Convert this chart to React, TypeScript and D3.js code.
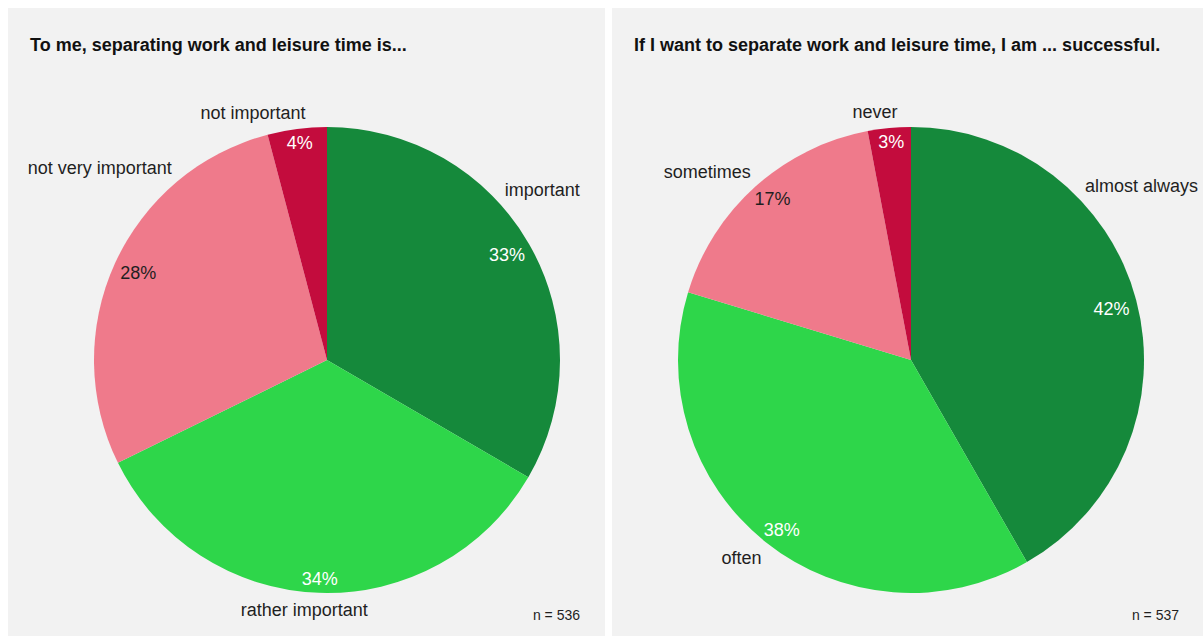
import React from "react";
import * as d3 from "d3";

const leftTitle = "To me, separating work and leisure time is...";
const leftCategories = ["important", "rather important", "not very important", "not important"];
const leftCounts = [179, 184, 151, 22];
const leftN = 536;

const rightTitle = "If I want to separate work and leisure time, I am ... successful.";
const rightCategories = ["almost always", "often", "sometimes", "never"];
const rightCounts = [224, 204, 93, 16];
const rightN = 537;

const sliceColors = ["#15893b", "#2ed64a", "#ef7a8b", "#c30c3d"];
const pctColors = ["#ffffff", "#ffffff", "#1f1f1f", "#ffffff"];

const W = 1203;
const H = 638;
const FONT = "'Liberation Sans', Arial, sans-serif";

let ctx: CanvasRenderingContext2D | null = null;
function measure(text: string, size: number, weight = "normal") {
  if (!ctx) ctx = document.createElement("canvas").getContext("2d");
  ctx!.font = `${weight} ${size}px ${FONT}`;
  return ctx!.measureText(text).width;
}
const clamp = (v: number, a: number, b: number) => Math.max(a, Math.min(b, v));

type PanelCfg = {
  x: number; y: number; w: number; h: number;
  title: string; cats: string[]; counts: number[]; n: number;
  cxOff: number; labelMin: number; labelMax: number; nRight: number;
};

const panels: PanelCfg[] = [
  { x: 8, y: 8, w: 597, h: 628, title: leftTitle, cats: leftCategories, counts: leftCounts, n: leftN, cxOff: 319, labelMin: 19, labelMax: 572, nRight: 572 },
  { x: 612, y: 8, w: 597, h: 628, title: rightTitle, cats: rightCategories, counts: rightCounts, n: rightN, cxOff: 299, labelMin: 19, labelMax: 586, nRight: 567 },
];

const R = 233;
const LABEL_R = 240;
const PCT_R = 225.5;
const FS = 18;

function Panel({ p }: { p: PanelCfg }) {
  const cx = p.x + p.cxOff;
  const cy = p.y + 352;
  const pie = d3.pie<number>().sort(null).value((d) => d)(p.counts);
  const arc = d3.arc<d3.PieArcDatum<number>>().innerRadius(0).outerRadius(R);
  const total = d3.sum(p.counts);
  const minX = p.x + p.labelMin;
  const maxX = p.x + p.labelMax;

  return (
    <g>
      <rect x={p.x} y={p.y} width={p.w} height={p.h} fill="#f2f2f2" />
      <text x={p.x + 22} y={p.y + 43} fontFamily={FONT} fontSize={18} fontWeight="bold" fill="#111">
        {p.title}
      </text>
      <g transform={`translate(${cx},${cy})`}>
        {pie.map((d, i) => (
          <path key={i} d={arc(d) || ""} fill={sliceColors[i]} />
        ))}
      </g>
      {pie.map((d, i) => {
        const mid = (d.startAngle + d.endAngle) / 2;
        const pct = `${Math.round((d.value / total) * 100)}%`;
        const pw = measure(pct, FS);
        const s = Math.sin(mid);
        const c = Math.cos(mid);
        const px = cx + PCT_R * s - (s * pw) / 2;
        const pcy = cy - PCT_R * c + Math.sign(c) * 6.45;
        const lw = measure(p.cats[i], FS);
        let a = mid;
        let left = 0, Py = 0, cc = 0;
        for (let k = 0; k < 400; k++) {
          const ss = Math.sin(a);
          cc = Math.cos(a);
          const Px = cx + LABEL_R * ss;
          Py = cy - LABEL_R * cc;
          const hj = clamp(0.5 - 3.2 * ss, 0, 1);
          left = Px - hj * lw;
          if (left >= minX && left + lw <= maxX) break;
          const toTop = cc >= 0;
          const step = 0.005;
          if (toTop) a += a < Math.PI ? -step : step;
          else a += a < Math.PI ? step : -step;
        }
        const t = clamp(0.5 - 1.5 * cc, 0, 1);
        const baseline = Py - 3 + 19 * t;
        return (
          <g key={"l" + i}>
            <text x={px} y={pcy + 6.45} textAnchor="middle" fontFamily={FONT} fontSize={FS} fill={pctColors[i]}>
              {pct}
            </text>
            <text x={left} y={baseline} fontFamily={FONT} fontSize={FS} fill="#1f1f1f">
              {p.cats[i]}
            </text>
          </g>
        );
      })}
      <text x={p.x + p.nRight} y={p.y + 612} textAnchor="end" fontFamily={FONT} fontSize={14} fill="#1f1f1f">
        {`n = ${p.n}`}
      </text>
    </g>
  );
}

export default function App() {
  return (
    <svg
      width={W}
      height={H}
      style={{ position: "absolute", left: 0, top: 0, display: "block", overflow: "hidden" }}
    >
      <rect x={0} y={0} width={W} height={H} fill="#ffffff" />
      {panels.map((p, i) => (
        <Panel key={i} p={p} />
      ))}
    </svg>
  );
}
